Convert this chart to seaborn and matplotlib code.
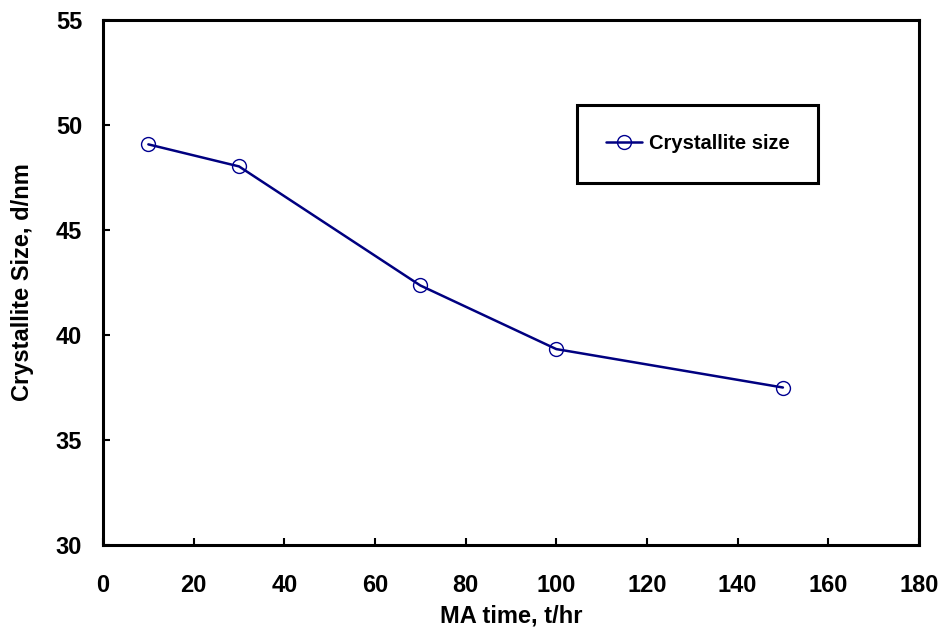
import matplotlib
matplotlib.use("Agg")
import matplotlib.pyplot as plt
import seaborn as sns
import pandas as pd

ma_time = [10, 30, 70, 100, 150]
crystallite_size = [49.08, 48.03, 42.36, 39.33, 37.5]
series_label = "Crystallite size"
x_ticks = [0, 20, 40, 60, 80, 100, 120, 140, 160, 180]
y_ticks = [30, 35, 40, 45, 50, 55]

sns.set_theme(style="white")
plt.rcParams['font.family'] = ['Liberation Sans', 'DejaVu Sans']
plt.rcParams['font.weight'] = 'bold'
plt.rcParams['text.color'] = 'black'
plt.rcParams['axes.labelcolor'] = 'black'

df = pd.DataFrame({"t": ma_time, "d": crystallite_size, "s": series_label})

fig = plt.figure(figsize=(9.41, 6.27), dpi=100)
ax = fig.add_axes([0.1095, 0.1308, 0.867, 0.8372])

sns.lineplot(data=df, x="t", y="d", ax=ax, color="#000080", linewidth=1.8,
             marker="o", markersize=10, markerfacecolor="none",
             markeredgecolor="#000090", markeredgewidth=1.0, label=series_label)

ax.set_xlim(0, 180)
ax.set_ylim(30, 55)
ax.set_xticks(x_ticks)
ax.set_yticks(y_ticks)
ax.tick_params(axis='both', direction='in', length=5, width=1.5, labelsize=17,
               colors='black', bottom=True, left=True)
ax.tick_params(axis='x', pad=21)
ax.tick_params(axis='y', pad=15)
for lab in ax.get_xticklabels() + ax.get_yticklabels():
    lab.set_fontweight('bold')
for sp in ax.spines.values():
    sp.set_linewidth(2.2)
    sp.set_color('black')
    sp.set_visible(True)

ax.set_xlabel("MA time, t/hr", fontsize=17, fontweight='bold', labelpad=5, color='black')
ax.set_ylabel("Crystallite Size, d/nm", fontsize=17, fontweight='bold', labelpad=16, color='black')

leg = ax.legend(loc='upper left', bbox_to_anchor=(0.581, 0.838),
                fancybox=False, framealpha=1, edgecolor='black',
                prop={'weight': 'bold', 'size': 14.5}, handlelength=1.8,
                borderpad=1.45, handletextpad=0.3, borderaxespad=0)
leg.get_frame().set_linewidth(2.2)
for t in leg.get_texts():
    t.set_color('black')

fig.savefig("out.png", dpi=100)
